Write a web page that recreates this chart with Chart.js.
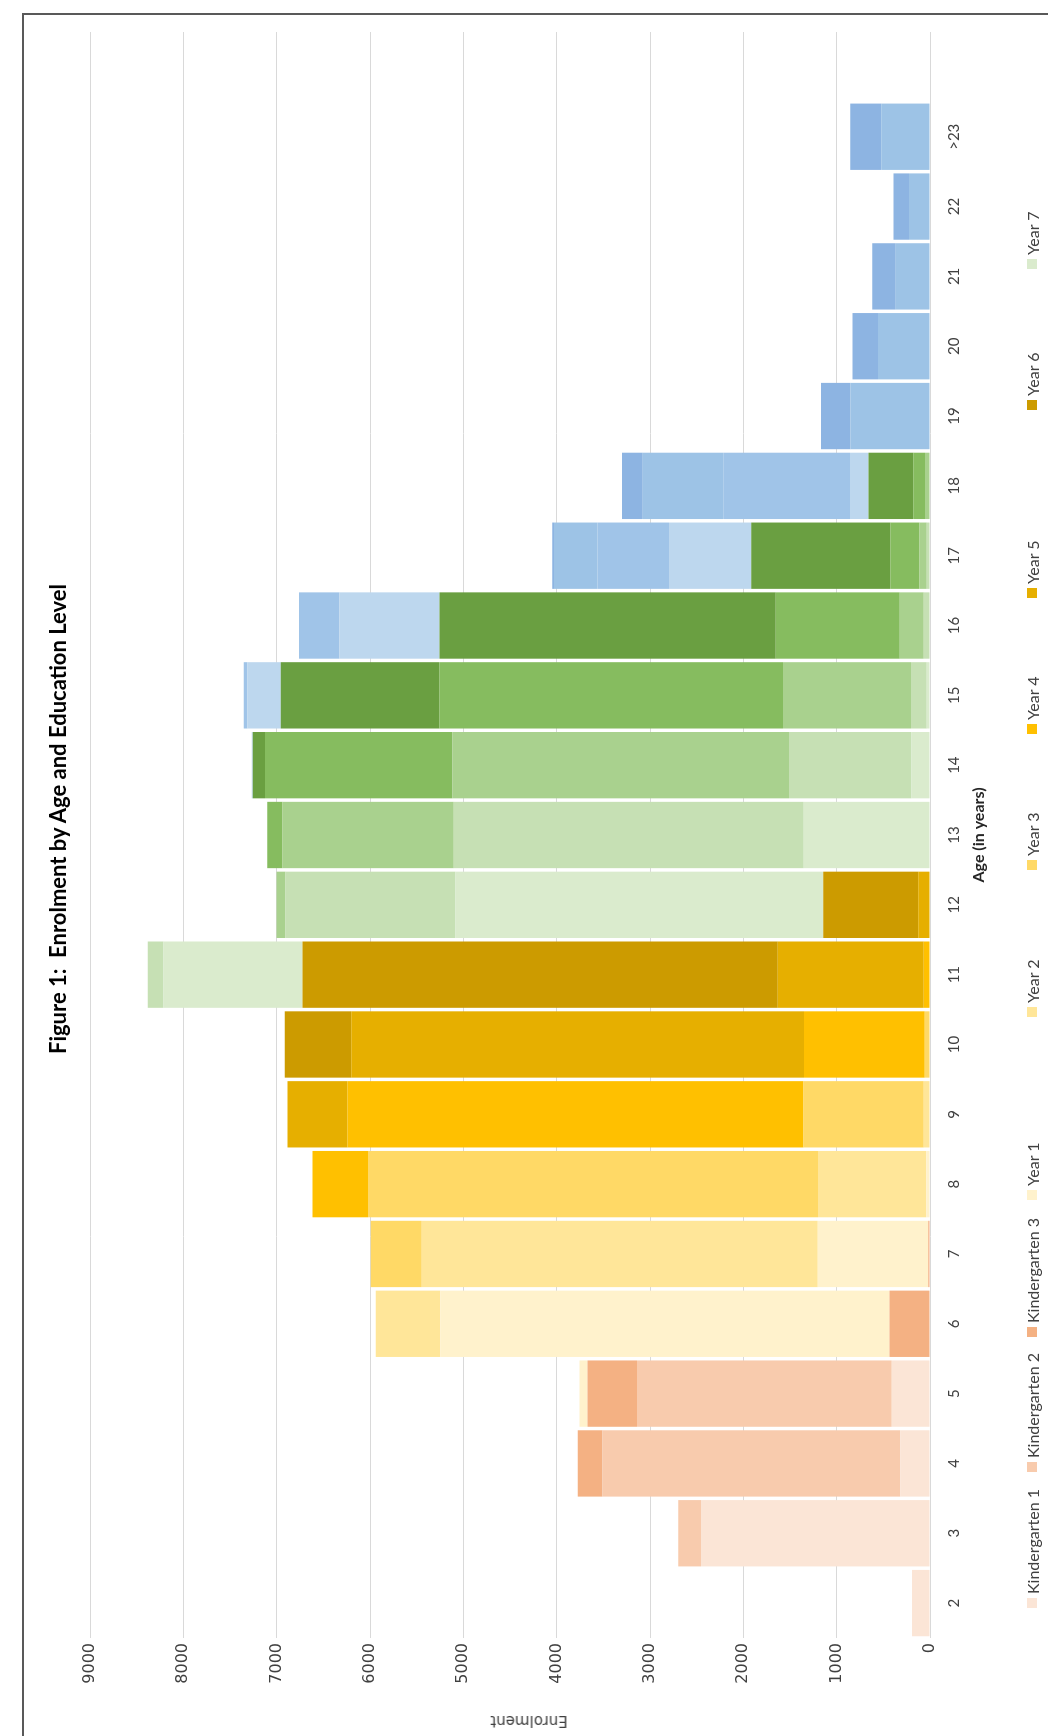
<!DOCTYPE html>
<html>
<head>
<meta charset="utf-8">
<title>Enrolment by Age and Education Level</title>
<script src="https://cdn.jsdelivr.net/npm/chart.js@4.4.1/dist/chart.umd.min.js"></script>
<style>
  html, body { margin: 0; padding: 0; background: #fff; width: 1048px; height: 1736px; overflow: hidden; }
  /* the chart is laid out landscape, then turned a quarter turn */
  #page {
    position: absolute; left: 0; top: 0; width: 1736px; height: 1048px;
    transform-origin: 0 0; transform: translate(0, 1736px) rotate(-90deg);
    font-family: Lato, "Open Sans", sans-serif;
  }
  #frame { position: absolute; left: -10px; top: 22px; width: 1733px; height: 1100px; border: 2px solid #595959; box-sizing: border-box; }
  #chart { position: absolute; left: 0; top: 0; }
  #title { position: absolute; left: 517px; top: 44px; width: 800px; text-align: center; white-space: pre;
           font-size: 22px; font-weight: bold; color: #000; line-height: 28px; }
  #ytitle { position: absolute; left: 15px; top: 529px; transform: translate(-50%, -50%) rotate(-90deg);
            font-family: "DejaVu Sans", sans-serif; font-size: 15px; color: #404040; white-space: nowrap; }
  #legend { position: absolute; left: 128px; top: 1021px; display: grid;
            grid-template-columns: 136px 135px 137px 183px 147px 136px 136px 188px 141px 141px;
            grid-auto-rows: 22px; font-size: 16px; color: #404040; }
  #legend .item { display: flex; align-items: center; white-space: nowrap; }
  #legend .box { width: 10px; height: 10px; margin-right: 4px; flex: none; }
</style>
</head>
<body>
<div id="page">
  <div id="frame"></div>
  <canvas id="chart" width="1736" height="1048"></canvas>
  <div id="title">Figure 1:  Enrolment by Age and Education Level</div>
  <div id="ytitle">Enrolment</div>
  <div id="legend"></div>
</div>
<script>
// Ages (the last slot is an empty category, as in the original)
const ages = ["2", "3", "4", "5", "6", "7", "8", "9", "10", "11", "12", "13", "14", "15", "16", "17", "18", "19", "20", "21", "22", ">23", ""];

// Enrolment per age, one array per level
//                2     3     4     5     6     7     8     9    10    11    12    13    14    15    16    17    18   19   20   21   22  >23
const kinder1 = [194, 2453,  320,  410,    0,    0,    0,    0,    0,    0,    0,    0,    0,    0,    0,    0,    0,   0,   0,   0,   0,   0, 0];
const kinder2 = [  0,  243, 3188, 2728,    0,    0,    0,    0,    0,    0,    0,    0,    0,    0,    0,    0,    0,   0,   0,   0,   0,   0, 0];
const kinder3 = [  0,    0,  266,  532,  433,   18,    0,    0,    0,    0,    0,    0,    0,    0,    0,    0,    0,   0,   0,   0,   0,   0, 0];
const year1   = [  0,    0,    0,   86, 4815, 1186,   39,    0,    0,    0,    0,    0,    0,    0,    0,    0,    0,   0,   0,   0,   0,   0, 0];
const year2   = [  0,    0,    0,    0,  690, 4242, 1160,   67,    0,    0,    0,    0,    0,    0,    0,    0,    0,   0,   0,   0,   0,   0, 0];
const year3   = [  0,    0,    0,    0,    0,  546, 4823, 1289,   56,    0,    0,    0,    0,    0,    0,    0,    0,   0,   0,   0,   0,   0, 0];
const year4   = [  0,    0,    0,    0,    0,    0,  594, 4885, 1294,   67,    0,    0,    0,    0,    0,    0,    0,   0,   0,   0,   0,   0, 0];
const year5   = [  0,    0,    0,    0,    0,    0,    0,  644, 4852, 1563,  127,    0,    0,    0,    0,    0,    0,   0,   0,   0,   0,   0, 0];
const year6   = [  0,    0,    0,    0,    0,    0,    0,    0,  711, 5093, 1016,    0,    0,    0,    0,    0,    0,   0,   0,   0,   0,   0, 0];
const year7   = [  0,    0,    0,    0,    0,    0,    0,    0,    0, 1490, 3940, 1352,  199,   34,    0,    0,    0,   0,   0,   0,   0,   0, 0];
const year8   = [  0,    0,    0,    0,    0,    0,    0,    0,    0,  168, 1823, 3752, 1313,  170,   68,   34,    0,   0,   0,   0,   0,   0, 0];
const year9   = [  0,    0,    0,    0,    0,    0,    0,    0,    0,    0,   97, 1833, 3607, 1371,  257,   78,   53,   0,   0,   0,   0,   0, 0];
const year10  = [  0,    0,    0,    0,    0,    0,    0,    0,    0,    0,    0,  164, 2007, 3680, 1328,  310,  126,   0,   0,   0,   0,   0, 0];
const year11  = [  0,    0,    0,    0,    0,    0,    0,    0,    0,    0,    0,    0,  131, 1701, 3602, 1493,  480,   0,   0,   0,   0,   0, 0];
const year12  = [  0,    0,    0,    0,    0,    0,    0,    0,    0,    0,    0,    0,    9,  359, 1071,  882,  199,   0,   0,   0,   0,   0, 0];
const year13  = [  0,    0,    0,    0,    0,    0,    0,    0,    0,    0,    0,    0,    0,   38,  436,  766, 1357,   0,   0,   0,   0,   0, 0];
const tert1   = [  0,    0,    0,    0,    0,    0,    0,    0,    0,    0,    0,    0,    0,    0,    0,  465,  863, 853, 558, 368, 226, 523, 0];
const tert2   = [  0,    0,    0,    0,    0,    0,    0,    0,    0,    0,    0,    0,    0,    0,    0,   20,  223, 315, 273, 250, 166, 332, 0];

const levelNames = ["Kindergarten 1", "Kindergarten 2", "Kindergarten 3", "Year 1", "Year 2", "Year 3", "Year 4", "Year 5", "Year 6", "Year 7",
                    "Year 8", "Year 9", "Year 10", "Year 11", "Year 12", "Year 13", "Tertiary Year 1", "Tertiary Year 2"];
const levelData = [kinder1, kinder2, kinder3, year1, year2, year3, year4, year5, year6, year7,
                   year8, year9, year10, year11, year12, year13, tert1, tert2];
const levelColors = ["#FBE5D6", "#F8CBAD", "#F4B183",
                     "#FFF2CC", "#FFE699", "#FFD966", "#FFC000", "#E6AF00", "#CC9B00",
                     "#DAEBCD", "#C6E0B4", "#A9D18E", "#86BC5F", "#6A9F41",
                     "#BDD7EE", "#A0C4E8", "#9DC3E6", "#8DB4E2"];

const tickColor = "#404040";

const datasets = levelNames.map((name, i) => ({
  label: name,
  data: levelData[i],
  backgroundColor: levelColors[i],
  borderWidth: 0,
  categoryPercentage: 1,
  barPercentage: 0.95,
}));

new Chart(document.getElementById("chart").getContext("2d"), {
  type: "bar",
  data: { labels: ages, datasets: datasets },
  options: {
    responsive: false,
    animation: false,
    layout: { padding: { left: 0, right: 32, top: 90, bottom: 60 } },
    plugins: {
      legend: { display: false },
      title: { display: false },
      tooltip: { enabled: false },
    },
    scales: {
      x: {
        stacked: true,
        grid: { display: false, drawTicks: false },
        border: { display: false },
        ticks: { font: { family: "Lato", size: 15 }, color: tickColor, padding: 15, maxRotation: 0, autoSkip: false },
        title: { display: true, text: "Age (in years)", font: { family: "Lato", size: 16, weight: "bold" }, color: "#262626", padding: 0 },
        afterFit: (scale) => { scale.height = 58; },
      },
      y: {
        stacked: true,
        min: 0,
        max: 9000,
        grid: { color: "#D9D9D9", lineWidth: 1, drawTicks: false },
        border: { display: false },
        ticks: { stepSize: 1000, font: { family: "DejaVu Sans", size: 16 }, color: tickColor, padding: 5, callback: (v) => String(v) },
        afterFit: (scale) => { scale.width = 98; },
      },
    },
  },
});

// legend in Excel style, a fixed grid of columns under the plot
const legendBox = document.getElementById("legend");
datasets.forEach((ds) => {
  const item = document.createElement("div");
  item.className = "item";
  const box = document.createElement("span");
  box.className = "box";
  box.style.background = ds.backgroundColor;
  const text = document.createElement("span");
  text.textContent = ds.label;
  item.appendChild(box);
  item.appendChild(text);
  legendBox.appendChild(item);
});
</script>
</body>
</html>
